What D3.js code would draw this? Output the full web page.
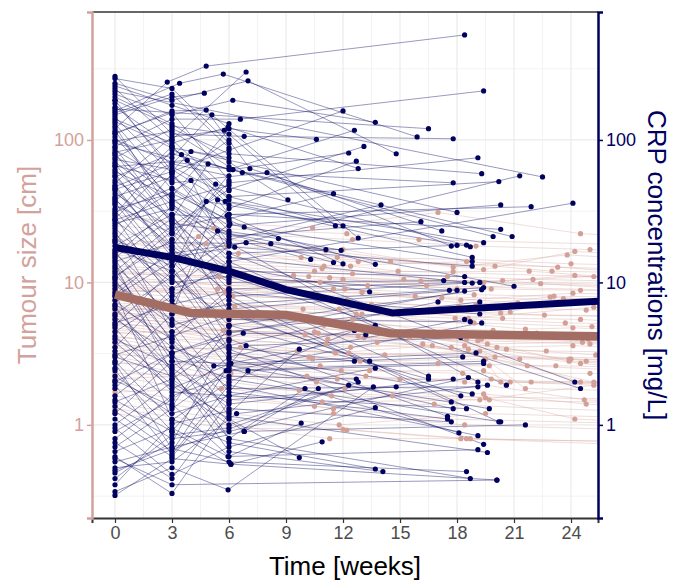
<!DOCTYPE html>
<html>
<head>
<meta charset="utf-8">
<script src="https://cdn.jsdelivr.net/npm/d3@7"></script>
<style>
  body { margin: 0; background: #fff; }
  svg text { font-family: "Liberation Sans", Arial, sans-serif; }
</style>
</head>
<body>
<script>
// ---- data ----
var xTicks = [0, 3, 6, 9, 12, 15, 18, 21, 24];
var yTicks = [1, 10, 100];

// CRP per patient: [week, mg/L]
var crpPatients = [
  [[0,120],[2.75,255],[4.8,330],[18.4,546]], [[0,90],[3,140],[6.6,140],[19.4,221]],
  [[0,45],[3,60],[6,85],[12.0,160]], [[0,210],[3,150],[6.2,190],[13.7,133]],
  [[0,30],[3,85],[6,62],[12.6,117]], [[0,160],[3.4,250],[5.7,290],[15.9,105]],
  [[0,280],[3,110],[6.8,106],[17.8,102]], [[0,60],[3,40],[6,120],[10.6,101]],
  [[0,12],[3,25],[6,45],[13.1,90]], [[0,100],[3,70],[6.2,62],[12.3,81]],
  [[0,250],[3,190],[7.0,260],[14.8,80]], [[0,8],[3,14],[6,33],[12.7,71]],
  [[0,140],[3,95],[5.95,123],[12.8,63]], [[0,35],[3,22],[6,50],[19.1,75]],
  [[0,75],[3,120],[6,80],[19.3,58]], [[0,180],[3,65],[6,40],[20.2,51]],
  [[0,22],[3,9],[6,18],[21.3,56]], [[0,55],[3,80],[6.7,59],[17.8,50]],
  [[0,200],[3,130],[6,70],[9.1,38]], [[0,18],[3,30],[6,28],[11.5,42]],
  [[0,6],[3,11],[6,20],[14.0,35]], [[0,130],[3,45],[6,25],[20.3,35]],
  [[0,40],[3,55],[6,30],[21.9,34]], [[0,4.5],[3,8],[6,14],[24.1,36]],
  [[0,70],[3,35],[6,21],[16.1,26.7]], [[0,230],[3,100],[6.9,300]],
  [[0,150],[3,200],[4.7,213]], [[0,110],[3,160],[4.8,162],[7.1,63],[17.2,23]],
  [[0,95],[3,75],[5.1,150],[12.8,20.5]], [[0,50],[3,105],[5.75,117],[11.6,25]],
  [[0,28],[3.5,79],[6,40],[12.0,25]], [[0,190],[3,60],[4,83],[18.0,31]],
  [[0,65],[3.8,72],[6,30],[20.3,23.6]], [[0,15],[3,28],[4.9,68],[19.9,21]],
  [[0,38],[3,18],[6.2,62],[20.9,21]], [[0,85],[3,50],[8.0,59],[17.7,18]],
  [[0,25],[4,52],[6,16],[18.0,18.2]], [[0,11],[3,20],[5.3,49],[18.5,18.3]],
  [[0,5],[3,12],[4.8,37],[18.7,17.8]], [[0,2.5],[3,6],[5.4,38],[19.4,19]],
  [[0,170],[3,90],[5.8,37],[18.8,15]], [[0,48],[3,15],[6.3,17.7],[18.8,13]],
  [[0,33],[3,42],[6.8,24.5],[18.8,14]], [[0,14],[3,19],[8.2,18.7],[11.1,17]],
  [[0,80],[3,26],[8.6,20.3],[11.9,16.8]], [[0,9],[3,16],[6.9,19],[10.3,14.5]],
  [[0,16],[3,7],[5.4,23],[11.5,13.8]], [[0,42],[3,24],[5.9,29.5],[12.0,13.5]],
  [[0,20],[3,13],[6.05,25.8],[13.7,13.4]], [[0,3.5],[3,9],[6,12],[18.4,11]],
  [[0,7],[3,4],[6,9],[18.4,10]], [[0,58],[3,18],[6,10],[17.3,10.3]],
  [[0,26],[3,33],[6,15],[18.8,9.9]], [[0,1.8],[3,4.5],[6,8],[19.2,10]],
  [[0,13],[3,6],[6,7],[19.4,9.2]], [[0,3],[3,2.2],[6,5],[19.3,8.9]],
  [[0,105],[3,38],[6,22],[21.0,9.4]], [[0,19],[3,10],[6,11],[17.6,8.8]],
  [[0,10],[3,5],[6,6.5],[18.0,8.8]], [[0,2],[3,3.2],[6,4.4],[18.4,8.7]],
  [[0,62],[3,27],[6,13],[13.4,8.6]], [[0,4],[3,2.6],[6,3.6],[17.0,7.3]],
  [[0,17],[3,12],[6,4.5],[19.2,7.3]], [[0,1.2],[3,2.8],[6,2.7],[18.4,5.5]],
  [[0,24],[3,10.5],[6,5.5],[18.7,5.3]], [[0,7.5],[3,3.5],[6,2.4],[19.3,5.2]],
  [[0,44],[3,17],[6,8.5],[19.2,6.0]], [[0,0.9],[3,1.5],[6,3],[13.7,5.0]],
  [[0,2.8],[3,1.08],[6,2.0],[12.6,4.6]], [[0,5.5],[3,3.2],[6.75,4.4],[13.2,4.3]],
  [[0,1.5],[3,0.9],[6.9,3.6],[18.2,4.1]], [[0,0.6],[3,0.33],[6,1.2],[9.7,3.4]],
  [[0,3.8],[3,1.8],[6.1,2.7],[19.0,3.2]], [[0,0.7],[3,1.3],[5.85,2.4],[19.4,2.8]],
  [[0,1.1],[3,0.6],[7.0,2.4],[19.4,2.7]], [[0,0.46],[3,0.75],[5.2,2.6],[18.3,3.0]],
  [[0,9.5],[3,5.5],[6,3.5],[12.6,2.8]], [[0,27],[3,14],[6,6],[13.4,2.8]],
  [[0,2.2],[3,1.2],[6,1.6],[13.7,2.5]], [[0,68],[3,22],[6,9],[16.5,2.2]],
  [[0,36],[3,12],[6,5],[16.5,2.1]], [[0,6.5],[3,2.5],[6,1.4],[17.8,2.1]],
  [[0,1.35],[3,0.8],[6,0.9],[18.6,2.15]], [[0,0.5],[3,0.55],[6.4,1.2],[19.6,1.9]],
  [[0,115],[3,36],[6,14],[20.6,1.9]], [[0,11.5],[3,4],[6,1.8],[19.1,1.85]],
  [[0,0.8],[3,1.6],[6,2.2],[12.7,2.1]], [[0,4.2],[3,1.9],[6,1.0],[12.3,1.9]],
  [[0,0.55],[3,0.7],[6.8,0.9],[10.7,1.8]], [[0,1.6],[3,3.2],[6,0.8],[10.0,1.8]],
  [[0,0.34],[3,0.5],[5.95,0.35],[13.6,1.85]], [[0,14.5],[3,3.8],[6,1.5],[14.8,1.85]],
  [[0,78],[3,40],[6,16],[24.2,2.0]], [[0,52],[3,29],[6,11],[24.5,1.8]],
  [[0,0.95],[3,0.45],[6,0.7],[13.7,1.32]], [[0,3.3],[3,1.4],[6,0.6],[9.8,1.03]],
  [[0,2.4],[3,0.9],[6.1,0.53],[10.9,0.76]], [[0,1.0],[3,2.0],[6,1.1],[9.7,0.59]],
  [[0,8.5],[3,1.1],[6,0.75],[13.7,0.49]], [[0,5.8],[3,2.4],[6,0.65],[14.1,0.47]],
  [[0,125],[3,30],[6,7.5],[17.7,1.45]], [[0,21],[3,8.5],[6,2.9],[17.8,1.3]],
  [[0,46],[3,16],[6,4],[17.5,1.15]], [[0,16.5],[3,5.2],[6,1.7],[17.5,1.1]],
  [[0,10.5],[3,2.8],[6,1.3],[17.7,1.05]], [[0,88],[3,27],[6,6.2],[18.2,1.6]],
  [[0,32],[3,11],[6,3.2],[18.8,1.65]], [[0,145],[3,58],[6,19],[19.1,2.0]],
  [[0,4.8],[3,1.7],[6,1.6],[18.5,1.3]], [[0,1.25],[3,0.65],[6,2.6],[19.7,1.3]],
  [[0,56],[3,20],[6,8],[20.2,1.05]], [[0,12.5],[3,3],[6,2.1],[20.3,1.05]],
  [[0,6.8],[3,2.1],[6.8,0.9],[21.6,1.0]], [[0,29],[3,7.5],[6,2.5],[18.1,0.88]],
  [[0,1.9],[3,0.62],[6,1.9],[19.1,0.84]], [[0,39],[3,13],[6,3.4],[19.4,0.73]],
  [[0,0.65],[3,0.95],[5.95,0.6],[19.1,0.67]], [[0,23],[3,4.5],[6,1.15],[19.6,0.64]],
  [[0,2.7],[3,0.68],[6,0.55],[18.5,0.47]], [[0,13.5],[3,2.3],[6,0.8],[18.7,0.42]],
  [[0,0.32],[3,0.58],[6.1,0.53],[20.1,0.41]], [[0,270],[3,230],[6,95]],
  [[0,240],[3,175],[6,130]], [[0,190],[3,125],[6,110]],
  [[0,155],[3,210],[6,88]], [[0,135],[3,88],[6,75]],
  [[0,112],[3,155],[6,52]], [[0,98],[3,115],[6,65]],
  [[0,82],[3,100],[6,44]], [[0,73],[3,62],[6,35]],
  [[0,66],[3,52],[6,100]], [[0,47],[3,68],[6,56]],
  [[0,37],[3,90],[6,38]], [[0,31],[3,46],[6,27]],
  [[0,27.5],[3,37],[6,48]], [[0,19.5],[3,58],[6,23]],
  [[0,15.5],[3,34],[6,19]], [[0,10.8],[3,23],[6,12.5]],
  [[0,8.2],[3,17],[6,10.5]], [[0,5.2],[3,7],[6,8.8]],
  [[0,3.1],[3,4.2],[6,5.8]], [[0,2.05],[3,1.35],[6,4.9]],
  [[0,1.45],[3,2.1],[6,3.9]], [[0,0.75],[3,0.42],[6,1.45]],
  [[0,0.42],[3,0.85],[6,0.95]], [[0,0.38],[3,1.02],[6,1.25]],
  [[0,0.48],[12.8,2.0]], [[0,220],[22.5,55]],
  [[0,0.58],[3,0.38],[20.1,0.41]], [[0,165],[16.5,120]]
];

// Tumour size per patient: [week, cm]
var tumourPatients = [
  [[0,28],[6,26],[10.4,24.2],[17,31],[24.5,22],[30,20]],
  [[0,20],[5.9,18],[11.1,16.7],[19.4,12.3],[24.2,16.5],[30,15]],
  [[0,18],[4.4,21],[12,17],[17.8,12.8],[23.8,15.6],[30,14]],
  [[0,16],[4.8,18.7],[11,13],[18.5,14],[23.3,12.8],[30,11]],
  [[0,14],[6,12.8],[10.5,12],[17.8,11.9],[21.8,12.0],[30,10]],
  [[0,13],[6,12],[12.5,11.5],[19.4,10],[24.2,11.2],[30,9.5]],
  [[0,12],[5.5,11],[10.8,10],[20.4,10.3],[25.2,11],[30,9]],
  [[0,11],[6,9.5],[12,10.5],[18,9],[22.4,9.8],[30,8.5]],
  [[0,10],[6,10],[11.5,9],[18.2,7.5],[24.1,8.4],[30,8]],
  [[0,9.5],[5.8,8.5],[13,8.5],[19,7],[22.9,7.9],[30,7]],
  [[0,9],[6.2,8],[12.2,7.5],[20.8,6.2],[23.6,7.7],[30,7.5]],
  [[0,8.5],[6,7.5],[13.5,7],[18.6,5.6],[25.2,6.7],[30,6]],
  [[0,8],[6,7],[11.8,6.5],[20.4,5.6],[24.5,5.5],[30,5]],
  [[0,7.5],[6,6.5],[13,6],[21.6,4.7],[24.1,4.8],[30,4.5]],
  [[0,7],[6,6],[12.5,5.5],[19.3,4.0],[24.9,4.0],[30,3.8]],
  [[0,6.8],[6,5.8],[11,5],[19.6,3.7],[24.6,3.8],[30,3.5]],
  [[0,6.5],[6,5.5],[12,5],[20.1,3.5],[24.1,3.6],[30,3.3]],
  [[0,6.2],[6,5.2],[14,4.5],[20.6,3.4],[25.3,3.1],[30,3.0]],
  [[0,6],[6,5],[10.5,4.5],[21.3,2.9],[23.9,2.9],[30,2.7]],
  [[0,5.8],[6,4.6],[12.8,4.2],[18.4,3.6],[24.8,2.8],[30,2.6]],
  [[0,5.5],[6,4.5],[11.2,4],[18.5,4.0],[23.9,2.8],[30,2.5]],
  [[0,5.2],[6,4.2],[13.8,3.8],[17.7,3.5],[24.5,2.7],[30,2.4]],
  [[0,5],[6,4],[12.4,3.5],[16.2,3.7],[21.7,2.6],[30,2.3]],
  [[0,4.8],[6,3.8],[11.6,3.2],[16.7,3.6],[25.2,2.0],[30,1.9]],
  [[0,4.5],[6,3.5],[10.2,3],[19.2,3.3],[24.5,2.0],[30,1.8]],
  [[0,4.2],[6,3.2],[12.9,2.8],[19.5,2.9],[21.6,1.8],[30,1.7]],
  [[0,4],[6,3],[10.8,2.6],[19.7,2.6],[20.3,2.0],[30,1.9]],
  [[0,3.8],[6,2.8],[11.9,2.4],[19.4,2.4],[20.8,2.0],[30,1.8]],
  [[0,3.5],[6,2.6],[13.2,2.2],[18.4,2.0],[24.7,1.5],[30,1.4]],
  [[0,3.2],[6,2.4],[10.6,2],[19.4,1.65],[24.8,1.4],[30,1.3]],
  [[0,3],[6,2.2],[12.1,1.8],[19.5,1.55],[24.2,1.1],[30,1.0]],
  [[0,2.8],[6,2],[11.4,1.6],[19.2,1.5],[25.2,1.9],[30,1.8]],
  [[0,2.5],[6,1.8],[10.9,1.45],[19.7,1.5],[30,1.4]],
  [[0,2.2],[6,1.6],[11.5,1.3],[16.8,1.4],[30,1.2]],
  [[0,2],[6,1.5],[10.5,1.35],[17.5,1.1],[30,1.0]],
  [[0,1.8],[6,1.3],[11.5,1.2],[18.4,1.0],[30,0.9]],
  [[0,1.6],[6,1.2],[11.8,1.0],[19.5,1.2],[30,1.1]],
  [[0,1.4],[6,1.1],[12.2,0.92],[18.2,0.8],[30,0.75]],
  [[0,1.3],[6,1.0],[11.3,0.8],[18.5,0.8],[30,0.7]],
  [[0,1.2],[6,0.95],[12,0.93],[18.7,0.8],[30,0.75]],
  [[0,25],[6,22],[12.5,20],[19,18],[25,17],[30,16]],
  [[0,22],[6,20],[11.7,15],[18.8,14.5],[24,13.5],[30,13]],
  [[0,17],[6,15],[12.8,14],[20,13],[23,12],[30,11.5]],
  [[0,15],[6,13.5],[10.9,12.5],[17.5,11],[22,10.5],[30,10]],
  [[0,11.5],[6,11],[13.3,9.5],[19.8,9],[24.5,8.8],[30,8.5]],
  [[0,10.5],[6,9.5],[12.1,9],[18.9,8.2],[23.1,8],[30,7.8]],
  [[0,9.8],[6,9],[10.3,8.2],[17.2,7.8],[21.2,7.2],[30,6.8]],
  [[0,8.8],[6,8.2],[11.4,7.4],[18.1,6.8],[24.8,6.4],[30,6.2]],
  [[0,7.8],[6,7],[13.6,6.6],[20.3,6.1],[22.6,5.9],[30,5.8]],
  [[0,7.2],[6,6.4],[12.7,6],[17.9,5.6],[23.7,5.2],[30,5]],
  [[0,6.6],[6,6],[10.1,5.6],[18.9,5.2],[25.1,4.9],[30,4.6]],
  [[0,6.1],[6,5.6],[11.9,5.2],[19.9,4.6],[22.2,4.4],[30,4.2]],
  [[0,5.6],[6,5],[12.6,4.6],[20.7,4.2],[24.3,4.1],[30,3.9]],
  [[0,5.1],[6,4.6],[10.7,4.4],[17.4,4.3],[23.4,4.2],[30,4.0]],
  [[0,4.6],[6,4.3],[13.1,4.1],[19.1,3.9],[25.0,3.7],[30,3.6]],
  [[0,4.1],[6,3.9],[11.1,3.7],[18.6,3.4],[22.7,3.3],[30,3.2]],
  [[0,3.6],[6,3.4],[12.3,3.2],[20.0,3.0],[24.0,2.9],[30,2.8]],
  [[0,3.1],[6,3.0],[10.4,2.9],[17.0,2.7],[23.2,2.6],[30,2.5]],
  [[0,2.7],[6,2.6],[13.4,2.4],[18.3,2.3],[25.0,2.3],[30,2.2]],
  [[0,2.3],[6,2.2],[11.7,2.1],[19.8,2.1],[21.9,2.0],[30,2.0]],
  [[0,30],[5.2,24],[12.2,22],[16.0,20],[30,18]],
  [[0,19],[6.5,16],[9.8,15],[14.5,14],[30,12]],
  [[0,12.5],[6.8,11.5],[10.2,11],[15.2,10.5],[30,9.4]],
  [[0,8.6],[5.4,9],[9.5,8.8],[15.8,8],[30,7.2]],
  [[0,6.4],[6.3,6.8],[9.9,6.5],[14.8,6.2],[30,5.6]],
  [[0,4.4],[5.7,4.6],[10,4.3],[15.5,4.1],[30,3.7]],
  [[0,3.3],[6.6,3.5],[9.6,3.3],[14.2,3.1],[30,2.9]],
  [[0,2.1],[6.1,2.3],[10.1,2.2],[15.0,2.1],[30,1.95]],
  [[0,1.7],[5.6,1.8],[9.7,1.75],[14.6,1.6],[30,1.5]],
  [[0,15.5],[6,14],[12.4,13],[14.9,12],[30,10.5]],
  [[0,9.2],[6,8.4],[11.3,10.8],[16.4,9.5],[30,8.6]],
  [[0,11.8],[6,10.5],[9.4,11.2],[16.1,10.2],[30,9.2]]
];

// mean trends
var crpMeanWeeks = [0, 3, 6, 9, 14.6, 27];
var crpMean = [17.6, 15.0, 12.0, 8.9, 6.1, 7.6];
var tumourMeanWeeks = [0, 4, 9, 14.5, 27];
var tumourMean = [8.2, 6.1, 5.9, 4.4, 4.15];

// ---- layout ----
var W = 675, H = 581;
var padL = 92, padR = 598, padT = 12, padB = 518;
var navy = "#00005f", rose = "#d3a29c", roseDot = "#d2a097", roseMean = "#a36d64";

var svg = d3.select("body").append("svg")
    .attr("width", W).attr("height", H);

var x = d3.scaleLinear().domain([-1.21, 25.42]).range([padL, padR]);
var y = d3.scaleLog().domain([0.222, 791]).range([padB, padT]);

// grid
var grid = svg.append("g");
var xMinor = xTicks.map(function (d) { return d + 1.5; }).filter(function (d) { return d < 25.4; });
var yMinor = [-0.5, 0.5, 1.5, 2.5].map(function (e) { return Math.pow(10, e); });

grid.selectAll(".xminor").data(xMinor).enter().append("line")
    .attr("x1", function (d) { return x(d); }).attr("x2", function (d) { return x(d); })
    .attr("y1", padT).attr("y2", padB)
    .style("stroke", "#ebebeb").style("stroke-width", 0.6);
grid.selectAll(".yminor").data(yMinor).enter().append("line")
    .attr("x1", padL).attr("x2", padR)
    .attr("y1", function (d) { return y(d); }).attr("y2", function (d) { return y(d); })
    .style("stroke", "#ebebeb").style("stroke-width", 0.6);
grid.selectAll(".xmajor").data(xTicks).enter().append("line")
    .attr("x1", function (d) { return x(d); }).attr("x2", function (d) { return x(d); })
    .attr("y1", padT).attr("y2", padB)
    .style("stroke", "#ebebeb").style("stroke-width", 1.2);
grid.selectAll(".ymajor").data(yTicks).enter().append("line")
    .attr("x1", padL).attr("x2", padR)
    .attr("y1", function (d) { return y(d); }).attr("y2", function (d) { return y(d); })
    .style("stroke", "#ebebeb").style("stroke-width", 1.2);

// clip
svg.append("clipPath").attr("id", "clip").append("rect")
    .attr("x", padL).attr("y", padT).attr("width", padR - padL).attr("height", padB - padT);
var plot = svg.append("g").attr("clip-path", "url(#clip)");

var line = d3.line()
    .x(function (d) { return x(d[0]); })
    .y(function (d) { return y(d[1]); });

// tumour individual lines
plot.append("g").selectAll("path").data(tumourPatients).enter().append("path")
    .attr("d", line)
    .style("fill", "none").style("stroke", roseDot)
    .style("stroke-opacity", 0.4).style("stroke-width", 0.9);

// CRP individual lines
plot.append("g").selectAll("path").data(crpPatients).enter().append("path")
    .attr("d", line)
    .style("fill", "none").style("stroke", navy)
    .style("stroke-opacity", 0.5).style("stroke-width", 0.8);

// tumour points
plot.append("g").selectAll("g").data(tumourPatients).enter().append("g")
    .selectAll("circle").data(function (d) { return d; }).enter().append("circle")
    .attr("cx", function (d) { return x(d[0]); })
    .attr("cy", function (d) { return y(d[1]); })
    .attr("r", 2.6).style("fill", roseDot);

// CRP points
plot.append("g").selectAll("g").data(crpPatients).enter().append("g")
    .selectAll("circle").data(function (d) { return d; }).enter().append("circle")
    .attr("cx", function (d) { return x(d[0]); })
    .attr("cy", function (d) { return y(d[1]); })
    .attr("r", 2.6).style("fill", navy);

// mean lines
plot.append("path")
    .datum(tumourMeanWeeks.map(function (t, i) { return [t, tumourMean[i]]; }))
    .attr("d", line)
    .style("fill", "none").style("stroke", roseMean).style("stroke-width", 8.5);
plot.append("path")
    .datum(crpMeanWeeks.map(function (t, i) { return [t, crpMean[i]]; }))
    .attr("d", line)
    .style("fill", "none").style("stroke", navy).style("stroke-width", 7);

// top border
svg.append("line").attr("x1", padL).attr("x2", padR).attr("y1", padT).attr("y2", padT)
    .style("stroke", "#333").style("stroke-width", 1.3);

// axes
var xAxis = svg.append("g").attr("transform", "translate(0," + padB + ")")
    .call(d3.axisBottom(x).tickValues(xTicks).tickSize(5).tickPadding(3));
xAxis.select(".domain").style("stroke", "#333").style("stroke-width", 2);
xAxis.selectAll(".tick line").style("stroke", "#333").style("stroke-width", 1.2);
xAxis.selectAll(".tick text").style("font-size", "18px").style("fill", "#4d4d4d");

var yFmt = function (d) { return d3.format("d")(d); };
var yLeft = svg.append("g").attr("transform", "translate(" + padL + ",0)")
    .call(d3.axisLeft(y).tickValues(yTicks).tickFormat(yFmt).tickSize(5).tickPadding(3));
yLeft.select(".domain").style("stroke", rose).style("stroke-width", 2.5);
yLeft.selectAll(".tick line").style("stroke", rose).style("stroke-width", 1.5);
yLeft.selectAll(".tick text").style("font-size", "18px").style("fill", rose);

var yRight = svg.append("g").attr("transform", "translate(" + padR + ",0)")
    .call(d3.axisRight(y).tickValues(yTicks).tickFormat(yFmt).tickSize(5).tickPadding(3));
yRight.select(".domain").style("stroke", navy).style("stroke-width", 2.5);
yRight.selectAll(".tick line").style("stroke", navy).style("stroke-width", 1.5);
yRight.selectAll(".tick text").style("font-size", "18px").style("fill", navy);

// titles
svg.append("text").attr("x", (padL + padR) / 2).attr("y", 575)
    .attr("text-anchor", "middle").style("font-size", "26px").style("fill", "#000")
    .text("Time [weeks]");
svg.append("text").attr("transform", "translate(36," + (padT + padB) / 2 + ") rotate(-90)")
    .attr("text-anchor", "middle").style("font-size", "26px").style("fill", rose)
    .text("Tumour size [cm]");
svg.append("text").attr("transform", "translate(648," + (padT + padB) / 2 + ") rotate(90)")
    .attr("text-anchor", "middle").style("font-size", "26px").style("fill", navy)
    .text("CRP concentrations [mg/L]");
</script>
</body>
</html>
